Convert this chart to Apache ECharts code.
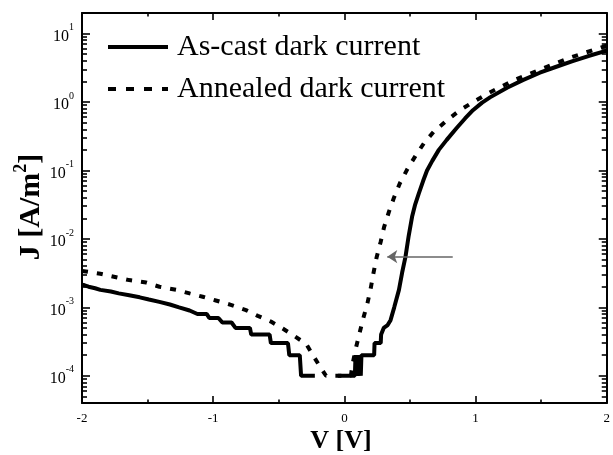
<!DOCTYPE html>
<html>
<head>
<meta charset="utf-8">
<script src="https://cdn.jsdelivr.net/npm/echarts@6/dist/echarts.min.js"></script>
<style>
html, body { margin: 0; padding: 0; background: #fff; }
#chart { width: 613px; height: 455px; }
</style>
</head>
<body>
<div id="chart"></div>
<script>
// Dark current density J (A/m^2) against bias V (V); null marks a break in the trace
const asCastV = [-2.00, -1.98, -1.95, -1.90, -1.86, -1.78, -1.72, -1.64, -1.56, -1.49, -1.41, -1.33, -1.26, -1.18,
  -1.12, -1.05, -1.03, -0.96, -0.93, -0.86, -0.83, -0.72, -0.71, -0.57, -0.56, -0.43, -0.42, -0.34, -0.33, -0.225,
  -0.14, -0.05, 0.08, 0.085, 0.10, 0.115, 0.125, 0.13, 0.227, 0.23, 0.277, 0.28, 0.30, 0.33, 0.352, 0.38, 0.416,
  0.44, 0.466, 0.49, 0.516, 0.54, 0.567, 0.60, 0.63, 0.67, 0.72, 0.78, 0.856, 0.92, 0.98, 1.05, 1.11, 1.24, 1.36,
  1.49, 1.61, 1.74, 1.86, 2.00];
const asCastJ = [2.15e-3, 2.1e-3, 2.0e-3, 1.9e-3, 1.8e-3, 1.7e-3, 1.6e-3, 1.5e-3, 1.4e-3, 1.3e-3, 1.2e-3, 1.1e-3, 1.0e-3, 9e-4,
  8e-4, 8e-4, 7e-4, 7e-4, 6e-4, 6e-4, 5e-4, 5e-4, 4e-4, 4e-4, 3e-4, 3e-4, 2e-4, 2e-4, 1e-4, 1e-4,
  null, 1e-4, 1e-4, 2e-4, 1e-4, 2e-4, 1e-4, 2e-4, 2e-4, 3e-4, 3e-4, 4e-4, 5e-4, 5.5e-4, 6.5e-4, 1.0e-3, 1.8e-3,
  3.2e-3, 5.5e-3, 1.1e-2, 2.1e-2, 3.2e-2, 4.6e-2, 7e-2, 0.10, 0.138, 0.20, 0.28, 0.417, 0.575, 0.76, 0.98, 1.17, 1.62, 2.09,
  2.68, 3.25, 3.95, 4.7, 5.65];

const annealedV = [-2.00, -1.86, -1.64, -1.51, -1.41, -1.28, -1.18, -1.08, -0.98, -0.86, -0.75, -0.66, -0.56, -0.47,
  -0.38, -0.29, -0.24, -0.19, -0.14, 0.05, 0.06, 0.087, 0.113, 0.14, 0.176, 0.201, 0.221, 0.246, 0.277, 0.302, 0.34,
  0.378, 0.423, 0.478, 0.541, 0.605, 0.68, 0.781, 0.881, 0.982, 1.108, 1.285, 1.486, 1.713, 1.915, 2.00];
const annealedJ = [3.4e-3, 3.1e-3, 2.5e-3, 2.3e-3, 2.0e-3, 1.8e-3, 1.6e-3, 1.43e-3, 1.26e-3, 1.08e-3, 9.1e-4, 7.5e-4, 6.2e-4, 4.9e-4,
  3.8e-4, 2.9e-4, 2e-4, 1.4e-4, 1e-4, 1e-4, 1.4e-4, 2.5e-4, 4e-4, 6.5e-4, 1.15e-3, 1.9e-3, 3.1e-3, 5.4e-3, 9.1e-3, 0.0147, 0.025,
  0.040, 0.065, 0.103, 0.162, 0.248, 0.366, 0.54, 0.76, 1.0, 1.38, 2.05, 2.95, 4.4, 5.9, 6.7];

const seriesNames = ['As-cast dark current', 'Annealed dark current'];

// Axis ranges and tick values
const xMin = -2, xMax = 2, xStep = 1;
const yMin = 4e-5, yMax = 20;
const yMajorTicks = [1e-4, 1e-3, 1e-2, 1e-1, 1, 10];
const yMinorTicks = [];
for (let e = -5; e <= 1; e++) {
  for (let m = 2; m <= 9; m++) {
    const v = m * Math.pow(10, e);
    if (v >= yMin && v <= yMax) yMinorTicks.push(v);
  }
}

// Horizontal arrow marking the shift of the turn-on edge
const arrowV = [0.826, 0.327];
const arrowJ = 5.5e-3;

const FONT = '"Liberation Serif", "Times New Roman", serif';

function pairs(xs, ys) {
  return xs.map((x, i) => [x, ys[i] == null ? '-' : ys[i]]);
}

function yAxisCfg(position, ticks, len, main) {
  return {
    type: 'log',
    logBase: 10,
    min: yMin,
    max: yMax,
    position: position,
    axisLine: { show: main, onZero: false, lineStyle: { color: '#000', width: 2 } },
    axisTick: { show: true, inside: true, length: len, customValues: ticks, lineStyle: { color: '#000', width: 1.6 } },
    axisLabel: (main && position === 'left') ? {
      show: true,
      customValues: yMajorTicks,
      margin: 8,
      formatter: function (v) {
        return '{b|10}{s|' + Math.round(Math.log10(v)) + '}';
      },
      rich: {
        b: { fontFamily: FONT, fontSize: 16, color: '#000', lineHeight: 22, verticalAlign: 'bottom' },
        s: { fontFamily: FONT, fontSize: 10, color: '#000', lineHeight: 12, verticalAlign: 'top' }
      }
    } : { show: false },
    splitLine: { show: false },
    minorTick: { show: false },
    minorSplitLine: { show: false }
  };
}

function xAxisCfg(position, showLabels) {
  return {
    type: 'value',
    min: xMin,
    max: xMax,
    interval: xStep,
    position: position,
    axisLine: { show: true, onZero: false, lineStyle: { color: '#000', width: 2 } },
    axisTick: { show: true, inside: true, length: 7, lineStyle: { color: '#000', width: 1.6 } },
    minorTick: { show: true, splitNumber: 2, length: 3.5, lineStyle: { color: '#000', width: 1.6 } },
    axisLabel: showLabels ? {
      show: true, margin: 9, fontFamily: FONT, fontSize: 13, color: '#000'
    } : { show: false },
    splitLine: { show: false },
    minorSplitLine: { show: false }
  };
}

const chart = echarts.init(document.getElementById('chart'), null, { renderer: 'canvas' });

// Legend icons: the line sample only, with the point marker made invisible
const hiddenMarker = { color: 'rgba(0,0,0,0)', borderWidth: 0, borderColor: 'rgba(0,0,0,0)' };

chart.setOption({
  animation: false,
  backgroundColor: '#fff',
  grid: { left: 82, right: 2, top: 13, bottom: 52, containLabel: false },
  xAxis: [xAxisCfg('bottom', true), xAxisCfg('top', false)],
  yAxis: [
    yAxisCfg('left', yMajorTicks, 8, true),
    yAxisCfg('left', yMinorTicks, 5, false),
    yAxisCfg('right', yMajorTicks, 8, true),
    yAxisCfg('right', yMinorTicks, 5, false)
  ],
  legend: {
    orient: 'vertical',
    left: 101,
    top: 27,
    itemWidth: 60,
    itemHeight: 30,
    itemGap: 12,
    selectedMode: false,
    itemStyle: hiddenMarker,
    lineStyle: { width: 4, color: '#000' },
    textStyle: { fontFamily: FONT, fontSize: 30, color: '#000', lineHeight: 30, padding: [0, 0, 0, 4] },
    data: [
      { name: seriesNames[0], itemStyle: hiddenMarker, lineStyle: { width: 4, color: '#000', type: 'solid' } },
      { name: seriesNames[1], itemStyle: hiddenMarker, lineStyle: { width: 4, color: '#000', type: [8, 10] } }
    ]
  },
  graphic: [
    {
      type: 'text',
      x: 341, y: 441,
      style: {
        text: 'V [V]',
        font: 'bold 26px ' + FONT,
        fill: '#000',
        align: 'center',
        verticalAlign: 'middle'
      }
    },
    {
      type: 'text',
      x: 29, y: 207,
      rotation: Math.PI / 2,
      style: {
        text: '{t|J [A/m}{p|2}{t|]}',
        align: 'center',
        verticalAlign: 'middle',
        rich: {
          t: { font: 'bold 30px ' + FONT, fill: '#000', lineHeight: 34, verticalAlign: 'bottom' },
          p: { font: 'bold 18px ' + FONT, fill: '#000', lineHeight: 18, verticalAlign: 'top' }
        }
      }
    }
  ],
  series: [
    {
      name: seriesNames[0],
      type: 'line',
      xAxisIndex: 0,
      yAxisIndex: 0,
      data: pairs(asCastV, asCastJ),
      showSymbol: false,
      symbol: 'none',
      connectNulls: false,
      lineStyle: { color: '#000', width: 4, type: 'solid' },
      itemStyle: { color: '#000' },
      emphasis: { disabled: true }
    },
    {
      name: seriesNames[1],
      type: 'line',
      xAxisIndex: 0,
      yAxisIndex: 0,
      data: pairs(annealedV, annealedJ),
      showSymbol: false,
      symbol: 'none',
      lineStyle: { color: '#000', width: 4, type: [6, 9] },
      itemStyle: { color: '#000' },
      emphasis: { disabled: true },
      markLine: {
        silent: true,
        symbol: ['none', 'arrow'],
        symbolSize: 10,
        label: { show: false },
        lineStyle: { color: '#666', width: 1.5, type: 'solid' },
        emphasis: { disabled: true },
        data: [[
          { coord: [arrowV[0], arrowJ] },
          { coord: [arrowV[1], arrowJ] }
        ]]
      }
    }
  ]
});
</script>
</body>
</html>
